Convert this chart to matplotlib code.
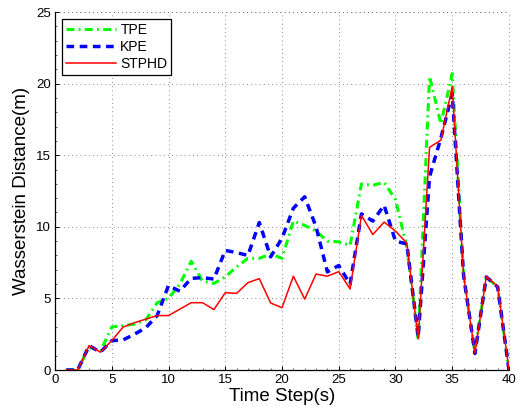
import matplotlib
matplotlib.use('Agg')
import matplotlib.pyplot as plt
import numpy as np
from matplotlib.ticker import MultipleLocator

plt.rcParams['font.family'] = ['Liberation Sans', 'DejaVu Sans']

# time steps and the three error curves
t = np.arange(1, 41)
tpe = [0, 0, 1.6, 1.3, 3.0, 3.1, 3.2, 3.5, 4.7, 5.0,
       6.0, 7.6, 6.2, 6.05, 6.5, 7.2, 7.8, 7.8, 8.1, 7.8,
       10.4, 10.1, 9.7, 9.0, 8.95, 8.7, 13.0, 12.9, 13.1, 11.9,
       8.6, 2.1, 20.5, 17.2, 20.7, 6.6, 1.2, 6.5, 5.8, 0]
kpe = [0, 0, 1.7, 1.25, 2.05, 2.1, 2.5, 2.95, 3.8, 5.9,
       5.5, 6.4, 6.45, 6.35, 8.35, 8.2, 8.0, 10.3, 7.9, 9.2,
       11.3, 12.1, 10.0, 6.85, 7.3, 6.0, 10.9, 10.4, 11.5, 9.0,
       8.8, 2.3, 13.5, 16.2, 19.3, 6.6, 1.15, 6.5, 5.8, 0]
stphd = [0, 0, 1.7, 1.25, 2.05, 3.0, 3.3, 3.55, 3.8, 3.8,
         4.25, 4.7, 4.7, 4.22, 5.4, 5.35, 6.1, 6.38, 4.68, 4.35,
         6.55, 4.95, 6.7, 6.55, 6.87, 5.66, 10.8, 9.46, 10.33, 9.7,
         8.86, 2.17, 15.55, 16.05, 19.8, 6.6, 1.17, 6.53, 5.83, 0]

fig = plt.figure(figsize=(5.17, 4.17), dpi=100)
ax = fig.add_axes([0.1064, 0.1127, 0.8781, 0.8585])

ax.plot(t, tpe, color=(0, 1, 0), lw=2.2, dashes=(2.6, 1.4, 0.6, 1.4), label='TPE')
ax.plot(t, kpe, color=(0, 0, 1), lw=2.5, dashes=(2.2, 1.6), label='KPE')
ax.plot(t, stphd, color=(1, 0, 0), lw=1.1, label='STPHD')

ax.set_xlim(0, 40)
ax.set_ylim(0, 25)
ax.xaxis.set_major_locator(MultipleLocator(5))
ax.yaxis.set_major_locator(MultipleLocator(5))
ax.xaxis.set_minor_locator(MultipleLocator(1))
ax.yaxis.set_minor_locator(MultipleLocator(1))
ax.tick_params(which='major', direction='in', length=3, width=0.7, labelsize=9.5, pad=3)
ax.tick_params(which='minor', direction='in', length=1.2, width=0.4)

grid_style = (0, (1, 4))
ax.grid(True, which='major', linestyle=grid_style, color='#666666', linewidth=0.6)
for s in ['top', 'right']:
    ax.spines[s].set_visible(False)
for s in ['left', 'bottom']:
    ax.spines[s].set_linewidth(0.9)

# dotted border lines at the top and right edge
ax.axhline(25, color='#666666', linestyle=grid_style, lw=0.6, clip_on=False)
ax.axvline(40, color='#666666', linestyle=grid_style, lw=0.6, clip_on=False)

ax.set_xlabel('Time Step(s)', fontsize=13.5, labelpad=1)
ax.set_ylabel('Wasserstein Distance(m)', fontsize=13.5, labelpad=4)

leg = ax.legend(loc='upper left', fontsize=10, fancybox=False, framealpha=1,
                edgecolor='black', handlelength=3.6, borderpad=0.3,
                labelspacing=0.2, handletextpad=0.3, borderaxespad=0.5)
leg.get_frame().set_linewidth(0.9)

fig.savefig('out.png', dpi=100)
